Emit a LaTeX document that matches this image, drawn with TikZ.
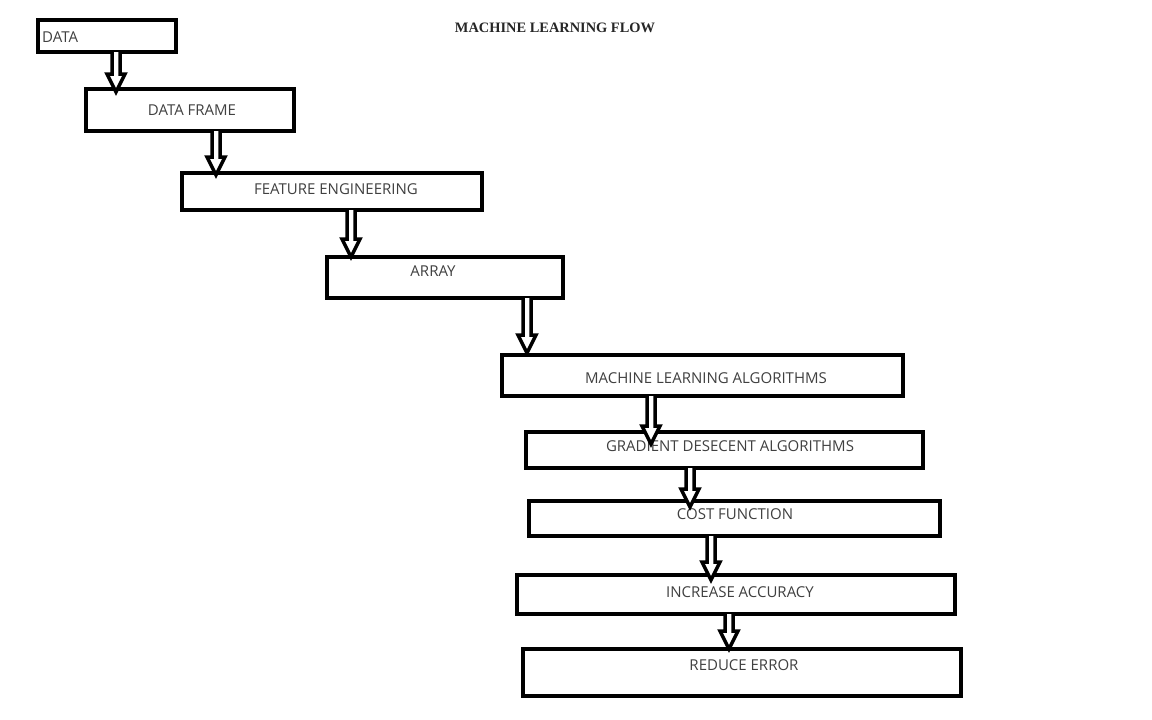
\documentclass[tikz,border=0pt]{standalone}
\usepackage{fontspec}
\setmainfont{Open Sans}
\newfontfamily\titlefont{Liberation Serif}
\usetikzlibrary{calc}
\definecolor{txtgray}{HTML}{404040}
\tikzset{
  box/.style={draw=black, line width=4pt, fill=white, inner sep=0pt, outer sep=0pt, anchor=north west},
  lbl/.style={text=txtgray, font=\fontsize{15}{17}\selectfont, inner sep=0pt},
  barrowstyle/.style={draw=black, line width=3.5pt, fill=white, line join=miter},
}
\newcommand\blockarrow[4]{%
  \path (#1,0 |- #2.south) coordinate (s) ($(#1,0 |- #3.north)+(0,#4)$) coordinate (e);
  \draw[barrowstyle] ($(s)+(-4,0)$) -- ($(e)+(-4,-18)$) -- ($(e)+(-9,-18)$) -- (e)
     -- ($(e)+(9,-18)$) -- ($(e)+(4,-18)$) -- ($(s)+(4,0)$);
}
\begin{document}
\begin{tikzpicture}[x=1pt,y=-1pt]
\useasboundingbox[fill=white] (0,0) rectangle (1152,720);
\node[font=\titlefont\bfseries\fontsize{14.4}{16}\selectfont, text=black!85] (title) at (555,28) {MACHINE LEARNING FLOW};
% boxes
\node[box, minimum width=138pt, minimum height=32pt] (data) at (38,20) {};
\node[box, minimum width=208pt, minimum height=42pt] (dframe) at (86,89) {};
\node[box, minimum width=300pt, minimum height=37pt] (feat) at (182,173) {};
\node[box, minimum width=236pt, minimum height=41pt] (array) at (327,257) {};
\node[box, minimum width=401pt, minimum height=41pt] (mla) at (502,355) {};
\node[box, minimum width=397pt, minimum height=36pt] (gda) at (526,432) {};
\node[box, minimum width=411pt, minimum height=35pt] (cost) at (529,501) {};
\node[box, minimum width=438pt, minimum height=39pt] (acc) at (517,575) {};
\node[box, minimum width=438pt, minimum height=47pt] (err) at (523,649) {};
% labels
\node[lbl, anchor=west] (tdata) at (42,37) {DATA};
\node[lbl] (tdframe) at (192,110) {DATA FRAME};
\node[lbl] (tfeat) at (336,189) {FEATURE ENGINEERING};
\node[lbl] (tarray) at (433,271) {ARRAY};
\node[lbl] (tmla) at (706,378) {MACHINE LEARNING ALGORITHMS};
\node[lbl] (tgda) at (730,446) {GRADIENT DESECENT ALGORITHMS};
\node[lbl] (tcost) at (735,514) {COST FUNCTION};
\node[lbl] (tacc) at (740,592) {INCREASE ACCURACY};
\node[lbl] (terr) at (744,665) {REDUCE ERROR};
% arrows
\blockarrow{116}{data}{dframe}{3}
\blockarrow{216}{dframe}{feat}{2}
\blockarrow{351}{feat}{array}{0}
\blockarrow{527}{array}{mla}{-2}
\blockarrow{651}{mla}{gda}{12}
\blockarrow{690}{gda}{cost}{6}
\blockarrow{711}{cost}{acc}{5}
\blockarrow{729}{acc}{err}{0}
\end{tikzpicture}
\end{document}
